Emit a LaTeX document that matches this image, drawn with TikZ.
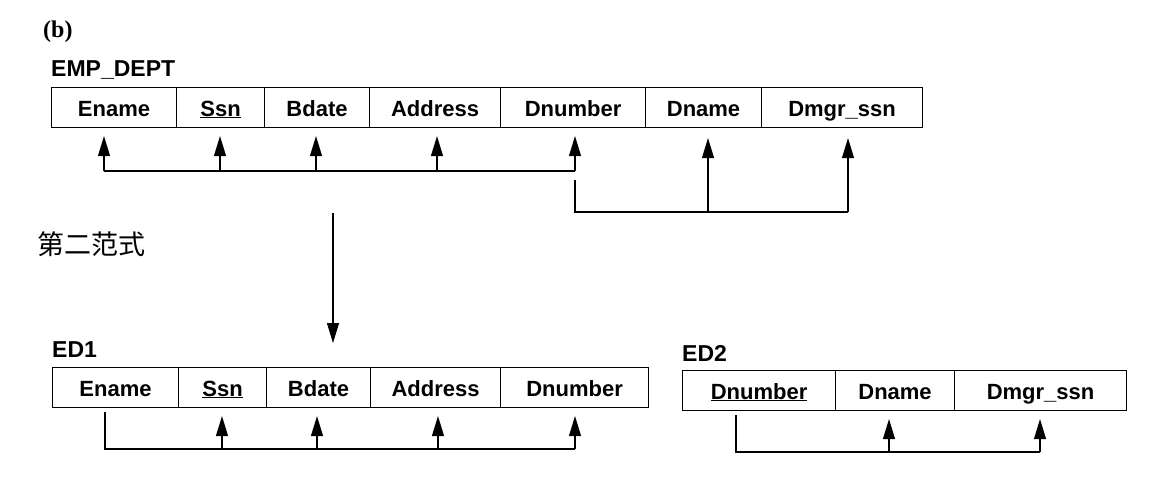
\documentclass[tikz,border=0pt]{standalone}
\usepackage{fontspec}
\setmainfont{Liberation Sans}
\newfontfamily\cjk{Noto Sans CJK SC}
\newfontfamily\serifb{Liberation Serif}
\usetikzlibrary{arrows.meta,positioning}
\begin{document}
\begin{tikzpicture}[x=1pt,y=-1pt,
  cell/.style={draw,line width=1.1pt,minimum height=40pt,inner sep=0pt,anchor=north west,
     text height=17pt,text depth=0pt,
     font=\fontsize{22}{24}\selectfont\bfseries},
  lbl/.style={anchor=west,inner sep=0pt,font=\fontsize{23}{25}\selectfont\bfseries},
  wire/.style={line width=1.1pt},
  arr/.style={line width=1.1pt,-{Triangle[length=20pt,width=12pt]},shorten >=8pt}
]
\useasboundingbox (0,0) rectangle (1152,484);

\node[anchor=west,inner sep=0pt,font=\serifb\fontsize{24}{26}\selectfont\bfseries] (b) at (43,32) {(b)};
\node[lbl] (l1) at (51,70) {EMP\_DEPT};

% EMP_DEPT
\node[cell,minimum width=125pt] (a1) at (51,87) {Ename};
\node[cell,minimum width=88pt]  (a2) at (176,87) {\underline{Ssn}};
\node[cell,minimum width=105pt] (a3) at (264,87) {Bdate};
\node[cell,minimum width=131pt] (a4) at (369,87) {Address};
\node[cell,minimum width=145pt] (a5) at (500,87) {Dnumber};
\node[cell,minimum width=116pt] (a6) at (645,87) {Dname};
\node[cell,minimum width=161pt] (a7) at (761,87) {Dmgr\_ssn};

\coordinate (p1) at (104,171);
\coordinate (p2) at (220,171);
\coordinate (p3) at (316,171);
\coordinate (p4) at (437,171);
\coordinate (p5) at (575,171);
\draw[wire] (p1) -- (p5);
\draw[arr] (p1) -- (p1 |- a1.south);
\draw[arr] (p2) -- (p2 |- a2.south);
\draw[arr] (p3) -- (p3 |- a3.south);
\draw[arr] (p4) -- (p4 |- a4.south);
\draw[arr] (p5) -- (p5 |- a5.south);

\coordinate (q0) at (575,180);
\coordinate (q1) at (575,212);
\coordinate (q2) at (708,212);
\coordinate (q3) at (848,212);
\draw[wire] (q0) -- (q1) -- (q3);
\draw[arr,shorten >=10pt] (q2) -- (q2 |- a6.south);
\draw[arr,shorten >=10pt] (q3) -- (q3 |- a7.south);

% transformation arrow
\coordinate (d0) at (333,213);
\coordinate (d1) at (333,343);
\draw[line width=1.1pt,-{Triangle[length=20pt,width=12pt]}] (d0) -- (d1);
\node[anchor=west,inner sep=0pt,font=\cjk\fontsize{27}{29}\selectfont] (nf) at (37,244) {第二范式};

% ED1
\node[lbl] (l2) at (52,350) {ED1};
\node[cell,minimum width=126pt] (b1) at (52,367) {Ename};
\node[cell,minimum width=88pt]  (b2) at (178,367) {\underline{Ssn}};
\node[cell,minimum width=104pt] (b3) at (266,367) {Bdate};
\node[cell,minimum width=130pt] (b4) at (370,367) {Address};
\node[cell,minimum width=148pt] (b5) at (500,367) {Dnumber};

\coordinate (r0) at (105,412);
\coordinate (r1) at (105,449);
\coordinate (r2) at (222,449);
\coordinate (r3) at (317,449);
\coordinate (r4) at (438,449);
\coordinate (r5) at (575,449);
\draw[wire] (r0) -- (r1) -- (r5);
\draw[arr] (r2) -- (r2 |- b2.south);
\draw[arr] (r3) -- (r3 |- b3.south);
\draw[arr] (r4) -- (r4 |- b4.south);
\draw[arr] (r5) -- (r5 |- b5.south);

% ED2
\node[lbl] (l3) at (682,353) {ED2};
\node[cell,minimum width=153pt] (c1) at (682,370) {\underline{Dnumber}};
\node[cell,minimum width=119pt] (c2) at (835,370) {Dname};
\node[cell,minimum width=172pt] (c3) at (954,370) {Dmgr\_ssn};

\coordinate (s0) at (736,415);
\coordinate (s1) at (736,452);
\coordinate (s2) at (889,452);
\coordinate (s3) at (1040,452);
\draw[wire] (s0) -- (s1) -- (s3);
\draw[arr] (s2) -- (s2 |- c2.south);
\draw[arr] (s3) -- (s3 |- c3.south);
\end{tikzpicture}
\end{document}
